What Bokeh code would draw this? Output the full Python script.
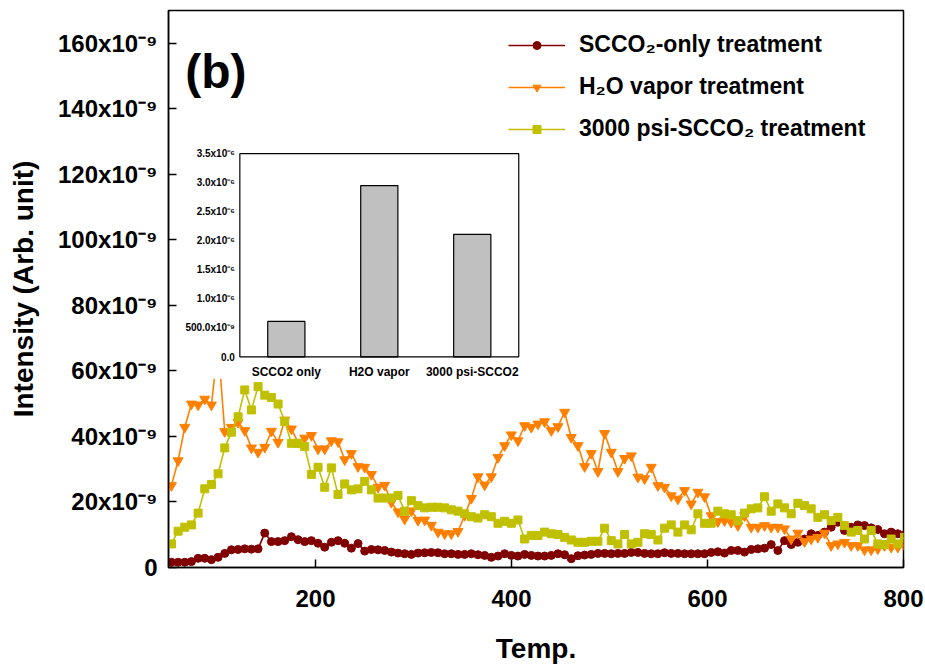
from bokeh.plotting import figure
from bokeh.models import Range1d, FixedTicker, Label, Legend, LegendItem
from bokeh.embed import file_html
from bokeh.resources import INLINE
from bokeh.core.properties import value

FONT = "Liberation Sans"

# ---------------- main chart data (intensity in units of 1e-9) ----------------
TEMP_START = 53.0   # first temperature reading
TEMP_STEP = 6.8     # sampling step of the temperature ramp

scco2_only = [
    1.6, 1.6, 1.6, 1.8, 2.8, 2.8, 2.4, 3.1, 4.3, 5.4,
    5.5, 5.7, 5.6, 5.7, 10.5, 7.9, 7.9, 8.2, 9.4, 8.5,
    7.9, 8.2, 7.4, 6.2, 7.7, 8.2, 7.4, 5.9, 7.3, 5.0,
    5.5, 5.4, 5.2, 4.7, 4.4, 4.2, 4.0, 4.4, 4.5, 4.6,
    4.5, 4.2, 4.2, 4.0, 4.0, 4.2, 3.9, 3.7, 3.1, 3.5,
    4.2, 3.7, 3.5, 4.0, 3.7, 3.5, 3.5, 3.7, 4.2, 3.9,
    2.7, 3.6, 3.8, 4.0, 4.3, 4.3, 4.2, 4.3, 4.3, 4.6,
    4.6, 4.3, 4.2, 4.2, 4.5, 4.3, 4.3, 4.2, 4.2, 4.2,
    4.2, 4.6, 4.8, 4.4, 5.2, 5.2, 4.7, 5.5, 5.7, 5.9,
    7.0, 5.2, 8.2, 7.0, 7.7, 8.7, 10.3, 9.8, 10.8, 12.3,
    13.8, 11.3, 12.3, 13.0, 12.8, 12.1, 11.6, 10.3, 10.8, 10.3, 10.0,
]

h2o_vapor = [
    25.0, 32.6, 42.8, 49.9, 49.6, 51.4, 49.6, 68.0, 41.5, 42.8,
    44.3, 41.8, 36.5, 35.2, 36.7, 41.6, 38.2, 45.0, 42.3, 38.2,
    39.5, 40.3, 36.2, 36.2, 38.7, 38.4, 32.9, 34.8, 30.8, 30.6,
    28.4, 24.5, 25.1, 19.9, 17.0, 14.8, 17.3, 14.4, 14.5, 12.9,
    10.8, 10.3, 10.3, 11.0, 15.9, 21.1, 27.7, 25.2, 27.7, 33.6,
    37.2, 40.5, 38.7, 43.3, 42.8, 43.8, 44.5, 41.8, 43.0, 47.4,
    39.7, 37.2, 30.8, 34.8, 29.3, 40.9, 35.2, 29.3, 33.3, 34.1,
    27.6, 27.1, 30.6, 25.0, 24.5, 21.9, 20.9, 23.5, 19.4, 23.0,
    21.6, 15.8, 14.0, 14.3, 13.8, 12.8, 15.8, 12.3, 12.3, 12.8,
    12.3, 12.3, 11.8, 8.7, 10.5, 7.9, 8.7, 9.2, 10.5, 6.7,
    7.2, 7.7, 6.7, 6.7, 5.4, 5.4, 5.7, 6.7, 6.2, 6.2, 6.8,
]

psi3000_scco2 = [
    7.2, 11.1, 12.3, 13.0, 16.6, 24.0, 25.3, 28.6, 36.5, 41.3,
    46.0, 54.2, 48.1, 55.2, 52.6, 51.9, 49.9, 44.6, 37.9, 37.9,
    36.9, 28.4, 30.6, 24.5, 30.4, 22.3, 25.5, 23.7, 24.0, 26.3,
    23.7, 21.2, 21.2, 21.2, 22.0, 17.2, 20.4, 18.9, 18.2, 18.4,
    18.4, 18.2, 17.6, 17.2, 16.4, 15.5, 15.1, 16.1, 15.5, 13.5,
    14.1, 13.5, 14.5, 8.7, 9.8, 9.8, 10.8, 10.3, 10.1, 9.2,
    8.4, 7.7, 7.7, 8.0, 8.0, 12.0, 8.2, 7.2, 10.1, 7.2,
    7.7, 10.3, 10.1, 8.4, 12.0, 13.0, 10.8, 13.0, 11.5, 16.4,
    13.5, 13.5, 17.2, 16.4, 16.1, 14.3, 16.6, 17.9, 18.2, 21.6,
    17.2, 19.4, 18.2, 16.4, 19.6, 18.9, 17.9, 15.3, 16.1, 14.3,
    15.3, 12.8, 10.8, 11.3, 8.7, 11.3, 7.2, 7.0, 8.7, 7.2, 9.2,
]

series_labels = ["SCCO\u2082-only treatment", "H\u2082O vapor treatment",
                 "3000 psi-SCCO\u2082 treatment"]
x_ticks = [200, 400, 600, 800]
y_ticks = [0, 20, 40, 60, 80, 100, 120, 140, 160]
y_tick_labels = ["0"] + ["%dx10\u207b\u2079" % v for v in y_ticks[1:]]

# ---------------- inset data (in units of 1e-6) ----------------
inset_categories = ["SCCO2 only", "H2O vapor", "3000 psi-SCCO2"]
inset_values = [0.61, 2.95, 2.11]
inset_ticks = [0.0, 0.5, 1.0, 1.5, 2.0, 2.5, 3.0, 3.5]
inset_tick_labels = ["0.0", "500.0x10\u207b\u2079", "1.0x10\u207b\u2076", "1.5x10\u207b\u2076",
                     "2.0x10\u207b\u2076", "2.5x10\u207b\u2076", "3.0x10\u207b\u2076", "3.5x10\u207b\u2076"]

temp = [round(TEMP_START + TEMP_STEP * i, 1) for i in range(len(scco2_only))]

p = figure(width=925, height=666, x_range=Range1d(50, 800), y_range=Range1d(0, 170),
           output_backend="svg", toolbar_location=None,
           min_border_left=168, min_border_right=22, min_border_top=10, min_border_bottom=99)
p.background_fill_color = "white"
p.border_fill_color = "white"
p.outline_line_color = "black"
p.outline_line_width = 1.5
p.xgrid.visible = False
p.ygrid.visible = False

for ax in (p.xaxis[0], p.yaxis[0]):
    ax.axis_line_width = 1.5
    ax.axis_line_color = "black"
    ax.major_tick_in = 8
    ax.major_tick_out = 0
    ax.major_tick_line_width = 1.5
    ax.major_tick_line_color = "black"
    ax.minor_tick_line_color = None
    ax.major_label_text_font = FONT
    ax.major_label_text_font_size = "24px"
    ax.major_label_text_font_style = "bold"
    ax.major_label_text_color = "black"
    ax.axis_label_text_font = FONT
    ax.axis_label_text_font_size = "28px"
    ax.axis_label_text_font_style = "bold"
    ax.axis_label_text_color = "black"

p.xaxis.ticker = FixedTicker(ticks=x_ticks)
p.yaxis.ticker = FixedTicker(ticks=y_ticks)
p.yaxis.major_label_overrides = {v: lab for v, lab in zip(y_ticks, y_tick_labels)}
p.xaxis.axis_label = "Temp."
p.yaxis.axis_label = "Intensity (Arb. unit)"
p.xaxis.major_label_standoff = 22
p.xaxis.axis_label_standoff = 23
p.yaxis.major_label_standoff = 11
p.yaxis.axis_label_standoff = 16

colors = ["#800000", "#FF8000", "#C0C000"]
markers = ["circle", "inverted_triangle", "square"]
sizes = [8, 10, 8]
items = []
for ys, col, mk, sz, lab in zip([scco2_only, h2o_vapor, psi3000_scco2], colors, markers, sizes, series_labels):
    ln = p.line(temp, ys, line_color=col, line_width=1.6)
    sc = p.scatter(temp, ys, marker=mk, size=sz, fill_color=col, line_color=col)
    items.append(LegendItem(label=lab, renderers=[ln, sc]))

legend = Legend(items=items, location=(340, 425))
legend.border_line_color = None
legend.background_fill_alpha = 0
legend.label_text_font = FONT
legend.label_text_font_size = "23px"
legend.label_text_font_style = "bold"
legend.label_text_color = "black"
legend.glyph_width = 57
legend.glyph_height = 20
legend.label_height = 20
legend.label_standoff = 14
legend.spacing = 15
legend.padding = 0
legend.margin = 0
p.add_layout(legend)

p.add_layout(Label(x=67, y=151.5, text="(b)", text_font=FONT, text_font_size="48px",
                   text_font_style="bold", text_baseline="alphabetic", text_color="black"))

# ---------------- inset ----------------
p.quad(left=[65], right=[414], bottom=[57.6], top=[131], fill_color="white", line_color=None)
sub = p.subplot(x_source=Range1d(0, 3), y_source=Range1d(0, 3.5),
                x_target=Range1d(122.8, 407.4), y_target=Range1d(64.3, 126.3))
cat_x = [i + 0.5 for i in range(len(inset_categories))]
sub.vbar(x=cat_x, top=inset_values, width=0.4, bottom=0,
         fill_color="#C0C0C0", line_color="black", line_width=1.2)
sub.quad(left=[0], right=[3], bottom=[0], top=[3.5], fill_color=None, line_color="black", line_width=1.2)
sub.text(x=[0] * len(inset_ticks), y=inset_ticks, text=inset_tick_labels, x_offset=-5,
         text_align="right", text_baseline="middle", text_font=value(FONT),
         text_font_size="10px", text_font_style="bold", text_color="black")
sub.text(x=cat_x, y=[0] * len(cat_x), text=inset_categories, y_offset=8,
         text_align="center", text_baseline="top", text_font=value(FONT),
         text_font_size="12px", text_font_style="bold", text_color="black")

open("out.html", "w").write(file_html(p, INLINE))
